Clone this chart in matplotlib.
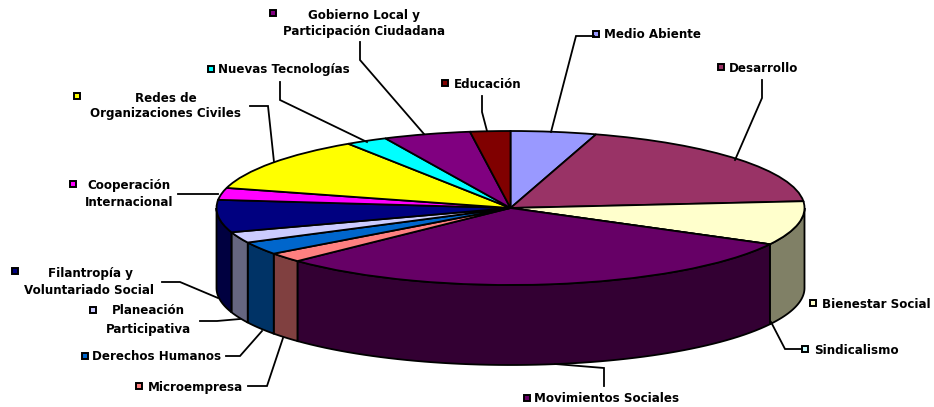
import numpy as np
import matplotlib
matplotlib.use("Agg")
import matplotlib.pyplot as plt

temas = ["Medio Abiente", "Desarrollo", "Bienestar Social", "Sindicalismo", "Movimientos Sociales",
         "Microempresa", "Derechos Humanos", "Planeación Participativa",
         "Filantropía y Voluntariado Social", "Cooperación Internacional",
         "Redes de Organizaciones Civiles", "Nuevas Tecnologías",
         "Gobierno Local y Participación Ciudadana", "Educación"]
valores = [4.7, 18.9, 9.2, 0.0, 30.1, 2.0, 2.7, 2.3, 6.8, 2.5, 11.5, 2.3, 4.8, 2.2]
colores = ["#9999FF", "#993366", "#FFFFCC", "#CCFFFF", "#660066", "#FF8080", "#0066CC", "#CCCCFF",
           "#000080", "#FF00FF", "#FFFF00", "#00FFFF", "#800080", "#800000"]
lados = ["#666699", "#662244", "#808066", "#668080", "#330033", "#804040", "#003366", "#666680",
         "#000040", "#800080", "#808000", "#008080", "#400040", "#400000"]

# pixels of the picture
W, H = 934, 407
CX, CY, RX, RY, PROF = 510.5, 208, 294, 77, 80
FUENTE = dict(family="DejaVu Sans", fontweight="bold", fontsize=8.6, color="black")


def dibuja_lados(ax):
    fin = np.cumsum(valores) / np.sum(valores) * 360
    ini = np.concatenate([[0], fin[:-1]])
    alto = PROF / RY
    for a, b, c in zip(ini, fin, lados):
        a, b = max(a, 90), min(b, 270)
        if a >= b:
            continue
        t = np.radians(np.linspace(a, b, 60))
        x, y = np.sin(t), np.cos(t)
        ax.fill(np.r_[x, x[::-1]], np.r_[y, y[::-1] - alto], facecolor=c,
                edgecolor="black", linewidth=1.3, zorder=1)


def etiqueta(ax, lineas, clave, color, guia=None):
    # lineas: (text, x, y, ha)
    for txt, x, y, ha in lineas:
        ax.text(x, y, txt, ha=ha, va="center", **FUENTE)
    ax.plot(clave[0], clave[1], marker="s", ms=4.2, mfc=color, mec="black", mew=1.4,
            ls="none", clip_on=False)
    if guia:
        ax.plot(guia[0], guia[1], color="black", lw=1.3, solid_joinstyle="miter")


fig = plt.figure(figsize=(W / 100, H / 100), dpi=100)

ax = fig.add_axes([0, 0, 1, 1])
dibuja_lados(ax)
ax.pie(valores, colors=colores, startangle=90, counterclock=False,
       wedgeprops=dict(edgecolor="black", linewidth=1.3, zorder=2))
ax.set_aspect("auto")
ax.set_xlim((0 - CX) / RX, (W - CX) / RX)
ax.set_ylim((CY - H) / RY, CY / RY)
ax.axis("off")

lab = fig.add_axes([0, 0, 1, 1])
lab.set_xlim(0, W)
lab.set_ylim(H, 0)
lab.axis("off")
lab.patch.set_alpha(0)

etiqueta(lab, [("Medio Abiente", 604, 35, "left")], (596, 34), colores[0],
         ([551, 576, 594], [132, 36, 36]))
etiqueta(lab, [("Desarrollo", 729, 68, "left")], (721, 67), colores[1],
         ([735, 762, 762], [160, 98, 80]))
etiqueta(lab, [("Bienestar Social", 822, 305, "left")], (813, 303), colores[2])
etiqueta(lab, [("Sindicalismo", 814, 351, "left")], (805, 349), colores[3],
         ([771, 785, 802], [322, 349, 349]))
etiqueta(lab, [("Movimientos Sociales", 534, 399, "left")], (527, 398), colores[4],
         ([555, 604, 604], [364, 368, 386]))
etiqueta(lab, [("Microempresa", 148, 388, "left")], (139, 386), colores[5],
         ([283, 267, 248], [338, 386, 386]))
etiqueta(lab, [("Derechos Humanos", 92, 357, "left")], (85, 356), colores[6],
         ([262, 240, 226], [331, 356, 356]))
etiqueta(lab, [("Planeación", 148, 311, "center"), ("Participativa", 148, 329, "center")],
         (93, 310), colores[7], ([240, 217, 200], [319, 321, 321]))
etiqueta(lab, [("Filantropía y", 90, 273, "center"), ("Voluntariado Social", 89, 291, "center")],
         (15, 271), colores[8], ([218, 180, 162], [298, 282, 282]))
etiqueta(lab, [("Cooperación", 129, 185, "center"), ("Internacional", 129, 203, "center")],
         (73, 184), colores[9], ([218, 178], [194, 194]))
etiqueta(lab, [("Redes de", 166, 98, "center"), ("Organizaciones Civiles", 166, 114, "center")],
         (77, 96), colores[10], ([274, 268, 250], [162, 106, 106]))
etiqueta(lab, [("Nuevas Tecnologías", 218, 70, "left")], (211, 69), colores[11],
         ([367, 280, 280], [142, 100, 82]))
etiqueta(lab, [("Gobierno Local y", 364, 15, "center"), ("Participación Ciudadana", 364, 32, "center")],
         (273, 13), colores[12], ([424, 360, 360], [134, 60, 42]))
etiqueta(lab, [("Educación", 454, 84, "left")], (445, 83), colores[13],
         ([487, 482, 482], [131, 112, 96]))

fig.savefig("out.png", dpi=100, facecolor="white")
